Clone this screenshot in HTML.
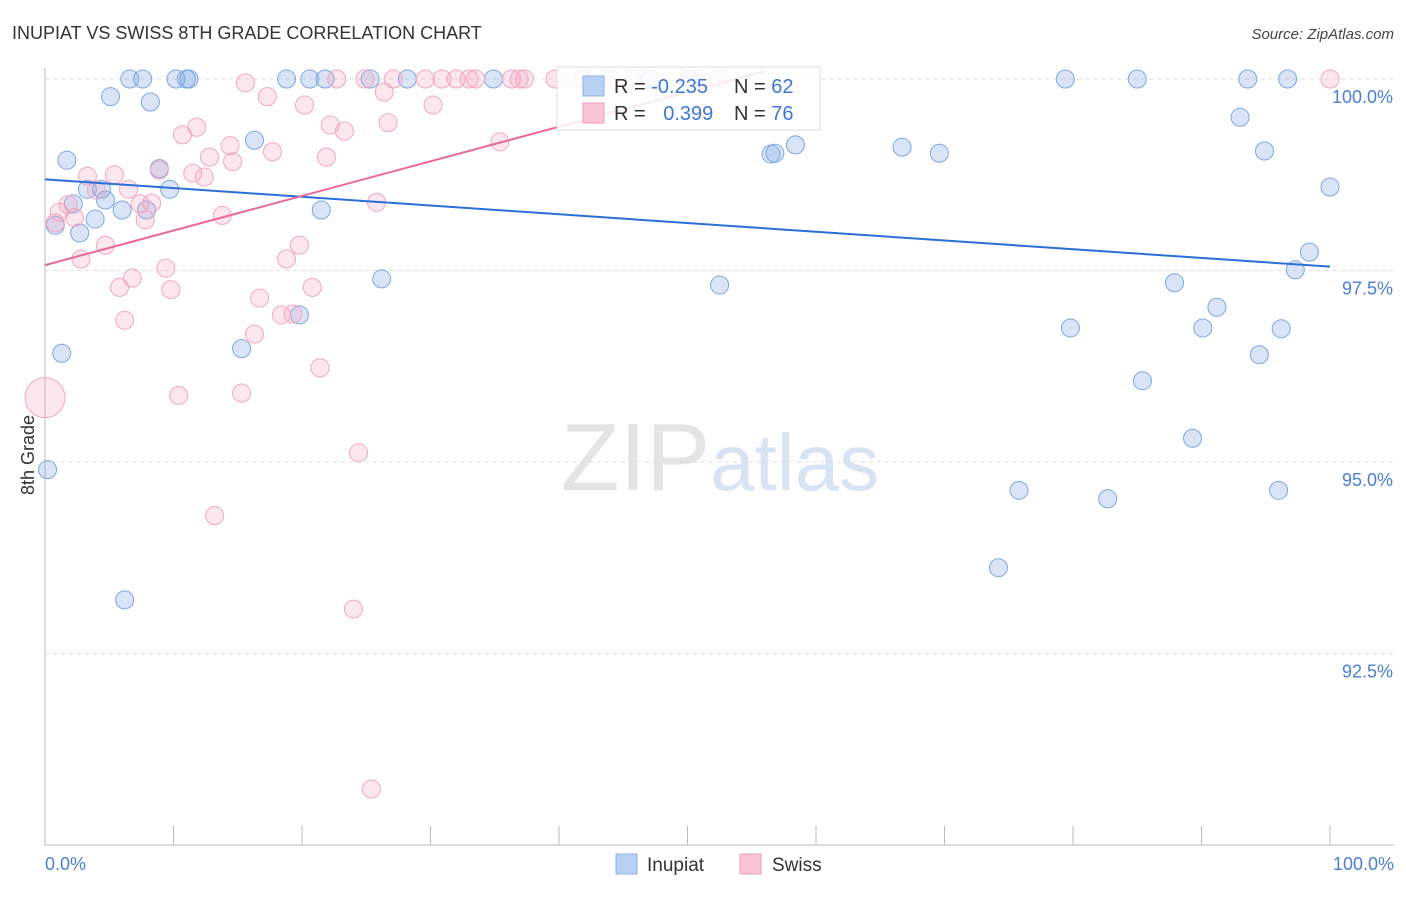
<!DOCTYPE html>
<html><head><meta charset="utf-8"><style>
body{margin:0;background:#fff;font-family:"Liberation Sans",sans-serif}
svg text{font-family:"Liberation Sans",sans-serif}
</style></head><body>
<svg id="chart" width="1406" height="892" viewBox="0 0 1406 892" xmlns="http://www.w3.org/2000/svg">
<text x="12" y="39" font-size="18" fill="#333">INUPIAT VS SWISS 8TH GRADE CORRELATION CHART</text>
<text x="1394" y="39" font-size="15" fill="#444" text-anchor="end" font-style="italic">Source: ZipAtlas.com</text>
<text x="720" y="490" font-size="96" text-anchor="middle" fill="#e4e4e4" font-family="Liberation Serif">ZIP<tspan fill="#d8e4f4" font-family="Liberation Sans" font-size="80">atlas</tspan></text>
<g id="grid"></g>
<g id="axes"></g>
<g id="pts"></g>
<g id="trend"></g>
<text transform="translate(34,455) rotate(-90)" font-size="18" fill="#333" text-anchor="middle">8th Grade</text>
<text x="45" y="870" font-size="18" fill="#4a7fd4">0.0%</text>
<text x="1394" y="870" font-size="18" fill="#4a7fd4" text-anchor="end">100.0%</text>
<g>
<rect x="557" y="67" width="263" height="63" fill="rgba(255,255,255,0.85)" stroke="#ddd"/>
<rect x="583" y="76" width="21" height="20" fill="#b8d0f4" stroke="#8fb2e8"/>
<rect x="583" y="103" width="21" height="20" fill="#f8c4d4" stroke="#f0a0bb"/>
<text x="614" y="93" font-size="20" fill="#333">R = <tspan fill="#3d78d6">-0.235</tspan></text>
<text x="734" y="93" font-size="20" fill="#333">N = <tspan fill="#3d78d6">62</tspan></text>
<text x="614" y="120" font-size="20" fill="#333">R = <tspan fill="#3d78d6" dx="12">0.399</tspan></text>
<text x="734" y="120" font-size="20" fill="#333">N = <tspan fill="#3d78d6">76</tspan></text>
</g>
<g>
<rect x="616" y="854" width="21" height="20" fill="#b8d0f4" stroke="#8fb2e8"/>
<text x="647" y="871" font-size="19" fill="#333">Inupiat</text>
<rect x="740" y="854" width="21" height="20" fill="#f8c4d4" stroke="#f0a0bb"/>
<text x="772" y="871" font-size="19" fill="#333">Swiss</text>
</g>
</svg>
<script>
const yTicks=[100,97.5,95,92.5];
const yTickLabels=["100.0%","97.5%","95.0%","92.5%"];
const xTicks=[0,10,20,30,40,50,60,70,80,90,100];
const inupiatX=[6.6,7.6,10.2,11.0,11.2,18.8,20.6,21.8,25.3,28.2,34.9,47.1,50.2,79.4,85.0,93.6,96.7,5.1,8.2,16.3,1.7,8.9,3.3,4.4,9.7,2.2,4.7,6.0,7.9,21.5,0.8,3.9,2.7,26.2,19.8,1.3,15.3,0.2,6.2,56.5,56.8,58.4,66.7,69.6,93.0,94.9,100,98.4,97.3,52.5,87.9,91.2,79.8,90.1,96.2,94.5,85.4,89.3,75.8,82.7,96.0,74.2];
const inupiatY=[100,100,100,100,100,100,100,100,100,100,100,100,100,100,100,100,100,99.77,99.70,99.20,98.94,98.83,98.56,98.56,98.56,98.37,98.42,98.29,98.29,98.29,98.09,98.17,97.99,97.39,96.92,96.42,96.48,94.90,93.20,99.02,99.03,99.14,99.11,99.03,99.50,99.06,98.59,97.74,97.51,97.31,97.34,97.02,96.75,96.75,96.74,96.40,96.06,95.31,94.63,94.52,94.63,93.62];
const swissX=[15.6,22.7,24.9,27.1,29.6,30.9,32.0,33.0,33.5,36.3,36.9,37.3,39.7,41.8,44.0,45.7,51.0,52.4,100,17.3,20.2,26.4,30.2,11.8,10.7,22.2,23.3,26.7,14.4,12.8,17.7,14.6,21.9,35.4,8.9,11.5,12.4,5.4,3.3,4.0,6.5,1.8,7.4,8.3,25.8,1.1,2.3,7.8,13.8,0.8,4.7,19.8,2.8,18.8,9.4,6.8,5.8,9.8,20.8,16.7,6.2,18.4,19.3,16.3,21.4,10.4,15.3,24.4,13.2,24.0,25.4,0];
const swissY=[99.95,100,100,100,100,100,100,100,100,100,100,100,100,100,100,100,100,100,100,99.77,99.66,99.83,99.66,99.37,99.27,99.40,99.32,99.43,99.13,98.98,99.05,98.92,98.98,99.18,98.81,98.77,98.72,98.75,98.73,98.55,98.56,98.36,98.37,98.38,98.39,98.26,98.19,98.16,98.22,98.12,97.83,97.83,97.65,97.65,97.53,97.40,97.28,97.25,97.28,97.14,96.85,96.92,96.93,96.67,96.23,95.87,95.90,95.12,94.30,93.08,90.73,95.84];
const swissSize=[9,9,9,9,9,9,9,9,9,9,9,9,9,9,9,9,9,9,9,9,9,9,9,9,9,9,9,9,9,9,9,9,9,9,9,9,9,9,9,9,9,9,9,9,9,9,9,9,9,9,9,9,9,9,9,9,9,9,9,9,9,9,9,9,9,9,9,9,9,9,9,20];
const inupiatTrend=[[0,98.69],[100,97.55]];
const swissTrend=[[0,97.57],[56,100.1]];
const NS="http://www.w3.org/2000/svg";
const X0=45,X1=1330,Y0=845,Y1=79;
const sx=v=>X0+(v/100)*(X1-X0);
const sy=v=>Y0-(v-90)/10*(Y0-Y1);
function mk(t,a,p){const e=document.createElementNS(NS,t);for(const k in a)e.setAttribute(k,a[k]);p.appendChild(e);return e;}
const grid=document.getElementById('grid'),axes=document.getElementById('axes');
yTicks.forEach((v,i)=>{
 const l=mk('line',{x1:X0,x2:1394,y1:sy(v),y2:sy(v),stroke:'#ddd','stroke-dasharray':'4,4'},grid);
 
 
 const t=mk('text',{x:1393,y:sy(v)+24,'font-size':18,fill:'#4a7fd4','text-anchor':'end'},grid);
 t.textContent=yTickLabels[i];
 
 
});
const ya=mk('line',{x1:X0,x2:X0,y1:68,y2:Y0,stroke:'#bbb'},axes);


const xa=mk('line',{x1:X0,x2:1394,y1:Y0,y2:Y0,stroke:'#bbb'},axes);


xTicks.forEach(v=>{
 const t=mk('line',{x1:sx(v),x2:sx(v),y1:826,y2:Y0,stroke:'#bbb'},axes);
 
 
});
const pts=document.getElementById('pts');
inupiatX.forEach((v,i)=>{
 const c=mk('circle',{cx:sx(v),cy:sy(inupiatY[i]),r:9,fill:'rgba(130,170,230,0.3)',stroke:'#7ea6e2','stroke-width':1},pts);
 
 
});
swissX.forEach((v,i)=>{
 const c=mk('circle',{cx:sx(v),cy:sy(swissY[i]),r:swissSize[i],fill:'rgba(245,160,190,0.25)',stroke:'#f2a6c0','stroke-width':1},pts);
 
 
});
const tr=document.getElementById('trend');
const bl=mk('line',{x1:sx(inupiatTrend[0][0]),y1:sy(inupiatTrend[0][1]),x2:sx(inupiatTrend[1][0]),y2:sy(inupiatTrend[1][1]),stroke:'#2a6fd6','stroke-width':2},tr);


const pl=mk('line',{x1:sx(swissTrend[0][0]),y1:sy(swissTrend[0][1]),x2:sx(swissTrend[1][0]),y2:sy(swissTrend[1][1]),stroke:'#e8689a','stroke-width':2},tr);


</script>
</body></html>
